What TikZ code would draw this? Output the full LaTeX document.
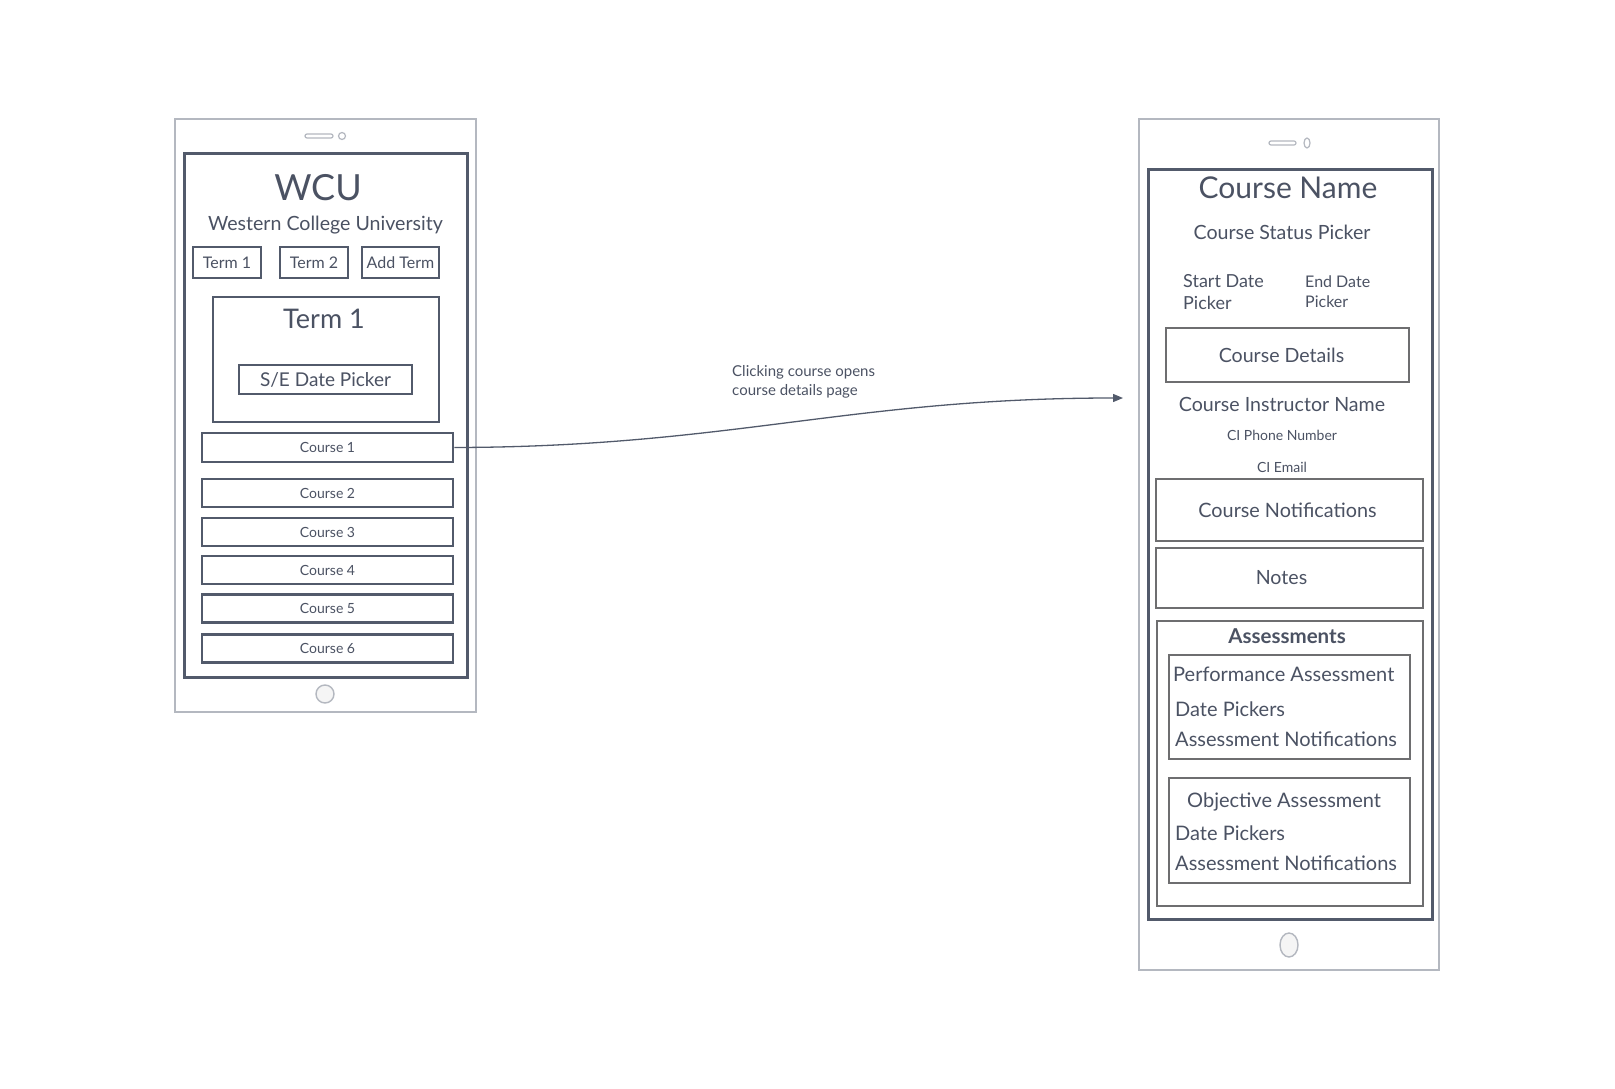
\documentclass[tikz,border=0pt]{standalone}
\usepackage{fontspec}
\setmainfont{Lato}
\usetikzlibrary{arrows.meta,positioning}
\definecolor{slate}{HTML}{525A6B}
\definecolor{inkgray}{HTML}{4B5263}
\definecolor{boxgray}{HTML}{6E6E70}
\definecolor{shellgray}{HTML}{B4B8C0}
\newcommand{\fsz}[2]{\fontsize{#1}{#2}\selectfont}
\tikzset{
  shell/.style={draw=shellgray,line width=1.4pt,fill=white},
  screen/.style={draw=slate,line width=3pt},
  uibox/.style={draw=slate,line width=2.6pt,inner sep=0pt,text=inkgray},
  grbox/.style={draw=boxgray,line width=2.8pt,inner sep=0pt,text=inkgray},
  txt/.style={inner sep=0pt,text=inkgray},
  link/.style={draw=slate,line width=1.3pt,-{Triangle[length=10pt,width=8pt]}},
}
\begin{document}
\begin{tikzpicture}[x=1pt,y=-1pt]
\useasboundingbox (0,0) rectangle (1615,1089);

\draw[shell] (175,119) rectangle (476,712);
\draw[shellgray,line width=1.2pt,rounded corners=2pt] (305,134) rectangle (333,138);
\draw[shellgray,line width=1.2pt] (342,136) circle (3.5);
\node[screen,minimum width=283pt,minimum height=523pt] (screenL) at (325.5,415.5) {};
\node[txt,font=\fsz{36}{38}] (wcu) at (318,188) {WCU};
\node[txt,font=\fsz{19.6}{22}] (uni) at (325.5,225) {Western College University};
\node[uibox,minimum width=68pt,minimum height=31pt,font=\fsz{16}{18}] (term1btn) at (227,262.5) {Term 1};
\node[uibox,minimum width=68pt,minimum height=31pt,font=\fsz{16}{18}] (term2btn) at (314,262.5) {Term 2};
\node[uibox,minimum width=77pt,minimum height=31pt,font=\fsz{16}{18}] (addterm) at (400.5,262.5) {Add Term};
\node[uibox,minimum width=226pt,minimum height=125pt] (termbox) at (326,359.5) {};
\node[txt,font=\fsz{27}{29}] (termtitle) at (324,319) {Term 1};
\node[uibox,minimum width=173pt,minimum height=29pt,font=\fsz{19}{21}] (sedate) at (325.5,379.5) {S/E Date Picker};
\node[uibox,minimum width=251pt,minimum height=29pt,font=\fsz{14}{16}] (c1) at (327.5,447.5) {Course 1};
\node[uibox,minimum width=251pt,minimum height=28pt,font=\fsz{14}{16}] (c2) at (327.5,493) {Course 2};
\node[uibox,minimum width=251pt,minimum height=28pt,font=\fsz{14}{16}] (c3) at (327.5,532) {Course 3};
\node[uibox,minimum width=251pt,minimum height=28pt,font=\fsz{14}{16}] (c4) at (327.5,570) {Course 4};
\node[uibox,minimum width=251pt,minimum height=28pt,font=\fsz{14}{16}] (c5) at (327.5,608.5) {Course 5};
\node[uibox,minimum width=251pt,minimum height=28pt,font=\fsz{14}{16}] (c6) at (327.5,648.5) {Course 6};
\draw[shellgray,line width=1.4pt,fill=gray!8] (325,694) circle (9);

\draw[shell] (1139,119) rectangle (1439,970);
\draw[shellgray,line width=1.2pt,rounded corners=2pt] (1269,141) rectangle (1296,145);
\draw[shellgray,line width=1.2pt] (1307,143) ellipse (3 and 5);
\node[screen,minimum width=284pt,minimum height=749pt] (screenR) at (1290,544.5) {};
\node[txt,font=\fsz{30}{32}] (cname) at (1288,188) {Course Name};
\node[txt,font=\fsz{19.6}{21}] (cstatus) at (1282,232) {Course Status Picker};
\node[txt,font=\fsz{18}{22},align=left,anchor=west] (startdate) at (1183,292) {Start Date\\Picker};
\node[txt,font=\fsz{16}{20},align=left,anchor=west] (enddate) at (1305,292) {End Date\\Picker};
\node[grbox,minimum width=243pt,minimum height=54pt,
  label={[txt,font=\fsz{19.6}{21},xshift=-6pt]center:Course Details}] (details) at (1287.5,355) {};
\node[txt,font=\fsz{19.6}{21}] (instructor) at (1282,404) {Course Instructor Name};
\node[txt,font=\fsz{14}{16}] (phone) at (1282,435) {CI Phone Number};
\node[txt,font=\fsz{14}{16}] (email) at (1282,467) {CI Email};
\node[grbox,minimum width=267pt,minimum height=62pt,
  label={[txt,font=\fsz{19.8}{21},xshift=-2pt]center:Course Notifications}] (notif) at (1289.5,510) {};
\node[grbox,minimum width=267pt,minimum height=60pt,
  label={[txt,font=\fsz{19.6}{21},xshift=-8pt]center:Notes}] (notes) at (1289.5,578) {};
\node[grbox,minimum width=266pt,minimum height=285pt] (assess) at (1290,763.5) {};
\node[txt,font=\fsz{20.5}{22}\bfseries] (assesstitle) at (1287,636) {Assessments};
\node[grbox,minimum width=241pt,minimum height=104pt] (perfbox) at (1289.5,707) {};
\node[txt,font=\fsz{20}{22},anchor=west] (perf) at (1173,674) {Performance Assessment};
\node[txt,font=\fsz{20}{22},anchor=west] (perfdate) at (1175,709) {Date Pickers};
\node[txt,font=\fsz{20}{22},anchor=west] (perfnote) at (1175,739) {Assessment Notifications};
\node[grbox,minimum width=241pt,minimum height=105pt] (objbox) at (1289.5,830.5) {};
\node[txt,font=\fsz{20}{22},anchor=west] (obj) at (1187,802) {Objective Assessment};
\node[txt,font=\fsz{20}{22},anchor=west] (objdate) at (1175,833) {Date Pickers};
\node[txt,font=\fsz{20}{22},anchor=west] (objnote) at (1175,863) {Assessment Notifications};
\draw[shellgray,line width=1.4pt,fill=gray!8] (1289,945) ellipse (9 and 12);

\coordinate (tip) at (1123,398);
\draw[link] (c1.east) .. controls (730,447) and (850,398) .. (tip);
\node[txt,font=\fsz{15}{18.5},align=left,anchor=west] (clicknote) at (732,382) {Clicking course opens\\course details page};
\end{tikzpicture}
\end{document}
